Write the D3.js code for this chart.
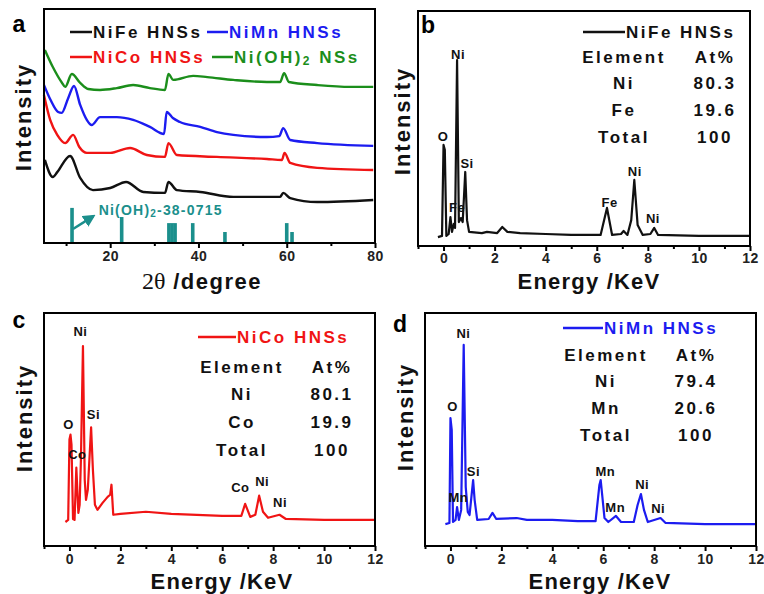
<!DOCTYPE html>
<html><head><meta charset="utf-8">
<script src="https://cdn.jsdelivr.net/npm/d3@7"></script>
<style>
body{margin:0;background:#fff}
text{font-family:"Liberation Sans",Arial,sans-serif;font-weight:bold}
</style></head><body>
<script>
var W = 764, H = 594;

// ---- panel a: XRD, [2theta, intensity a.u.]
var xrdNiOH = [[5.2,82.5],[7,75.2],[9.1,68.4],[9.8,66.7],[11.3,72.2],[13.2,68.4],[15,65.8],[17.7,65.4],[21.5,66.2],[25.2,67.5],[29,66.2],[32.4,65.4],[33.2,72.2],[34.3,69.7],[38.8,71.4],[42,70.9],[47.9,69.7],[55.5,68.8],[58.5,68.8],[59.4,72.6],[60.5,68.8],[66.9,67.5],[74.4,66.7],[79.6,66.7]];
var xrdNiMn = [[5,67.5],[6.5,61.1],[8.2,56],[9,55.6],[10.5,62],[11.8,67.1],[13.2,59],[14.7,52.6],[15.8,50.4],[17.7,53.8],[21.5,53.8],[25.2,52.6],[29,49.6],[32.2,46.6],[32.8,56],[34.2,53.4],[35.8,51.7],[40.4,49.6],[44.2,47.4],[47.9,46.2],[55.5,45.3],[58.3,45.7],[59.2,49.1],[60.8,44],[66.9,42.7],[79.6,41.5]];
var xrdNiCo = [[5,63.2],[6.4,52.6],[8,46.2],[9.8,42.7],[11.6,46.2],[13,41],[14.7,38.5],[20,38.5],[24.5,40.6],[28.3,37.6],[32.4,36.8],[33.2,42.7],[35.1,37.6],[44.2,36.8],[55.5,35.9],[58.9,35.5],[59.5,38.5],[60.8,34.2],[66.9,32.1],[79.6,31.2]];
var xrdNiFe = [[5.2,35.5],[7,28.2],[8,30.3],[10.9,37.2],[13.2,27.8],[16.1,22.6],[20,23.5],[23.6,26.1],[27.5,21.8],[32.4,21.4],[33.2,26.1],[35.1,22.6],[40.4,21.8],[47.9,19.7],[58.5,19.7],[59.2,21.4],[60.8,19.2],[66.9,17.5],[79.6,18.4]];
// JCPDS 38-0715 reference lines [2theta, height]
var refPeaks = [[11.35,15],[22.6,11.1],[33.3,8.5],[34.0,8.5],[34.7,8.5],[38.7,8.5],[46.0,4.7],[60.0,8.5],[61.2,4.7]];
var xrdTicks = [20,40,60,80], xrdMinor = [10,30,50,70];

// ---- EDS spectra [energy keV, intensity a.u.]
var edsNiFe = [[-0.22,3.8],[-0.06,4.3],[0,43],[0.05,40.9],[0.11,4.3],[0.2,5.1],[0.27,12.3],[0.33,6],[0.4,9.4],[0.45,7.7],[0.53,79.1],[0.6,10.2],[0.68,11.9],[0.75,10.2],[0.85,31.5],[0.92,11],[1,6],[1.5,5.5],[1.7,6],[2.1,5.5],[2.3,8.1],[2.5,6],[3,5.5],[4,5.1],[5,4.7],[6.15,4.7],[6.4,16.2],[6.6,4.7],[6.95,5.1],[7.05,6.4],[7.2,4.7],[7.35,11],[7.47,28.1],[7.6,8.9],[7.8,4.7],[8.1,5.1],[8.25,7.7],[8.4,4.7],[10,4.3],[12,4.3]];
var edsNiCo = [[-0.16,10.3],[-0.05,11.2],[0,45.7],[0.04,47.8],[0.08,43.5],[0.14,11.6],[0.2,11.2],[0.27,33.6],[0.35,14.2],[0.4,17.7],[0.45,37],[0.53,85.8],[0.6,28.4],[0.65,19.8],[0.72,24.1],[0.85,50.9],[0.92,32.8],[1,17.7],[1.1,15.5],[1.3,18.5],[1.5,21.1],[1.6,22],[1.65,26.3],[1.72,13.4],[2,13.8],[3,14.7],[4,13.8],[5,13.4],[6,12.9],[6.75,12.9],[6.9,18.1],[7.1,12.5],[7.3,13.4],[7.45,21.6],[7.6,14.7],[7.8,12.1],[8.25,13.4],[8.5,11.6],[10,11.2],[12,11.2]];
var edsNiMn = [[-0.2,9.4],[-0.04,9.9],[0,54.9],[0.05,49.8],[0.1,10.3],[0.2,11.2],[0.26,16.7],[0.33,11.2],[0.42,15.5],[0.52,86.3],[0.6,25.3],[0.68,14.6],[0.75,13.3],[0.89,28.3],[0.95,19.7],[1.05,11.2],[1.5,11.6],[1.65,14.2],[1.8,11.6],[2.6,12],[3,11.2],[4,11.2],[5,10.7],[5.7,10.7],[5.85,26.2],[5.9,28.3],[6.05,12],[6.2,10.3],[6.5,12.9],[6.7,10.3],[7.2,10.3],[7.35,17.6],[7.48,22.3],[7.6,15.5],[7.75,10.3],[8.25,12],[8.45,9.9],[10,9.4],[12,9.4]];
var edsTicks = [0,2,4,6,8,10,12], edsMinor = [-1,1,3,5,7,9,11];

// peak labels [energy, intensity, text]
var labNiFe = [[0.57,81.3,"Ni"],[-0.02,46.4,"O"],[0.92,35.3,"Si"],[0.53,16.2,"Fe"],[6.5,18.7,"Fe"],[7.49,31.5,"Ni"],[8.2,11.9,"Ni"]];
var labNiCo = [[0.43,92.2,"Ni"],[-0.04,52.2,"O"],[0.94,56.5,"Si"],[0.31,39.2,"Co"],[6.71,25,"Co"],[7.57,27.6,"Ni"],[8.27,18.5,"Ni"]];
var labNiMn = [[0.51,91.4,"Ni"],[0.08,59.7,"O"],[0.9,31.8,"Si"],[0.31,21,"Mn"],[6.08,31.8,"Mn"],[6.47,16.7,"Mn"],[7.53,26.2,"Ni"],[8.16,16.3,"Ni"]];

// composition tables
var tabNiFe = [["Element","At%"],["Ni","80.3"],["Fe","19.6"],["Total","100"]];
var tabNiCo = [["Element","At%"],["Ni","80.1"],["Co","19.9"],["Total","100"]];
var tabNiMn = [["Element","At%"],["Ni","79.4"],["Mn","20.6"],["Total","100"]];

var cBlack = "#111", cRed = "#f01414", cBlue = "#1c1cf0", cGreen = "#1b8e1b", cTeal = "#1b8f8c";

var svg = d3.select("body").append("svg").attr("width", W).attr("height", H);

function frame(box) {
    svg.append("rect").attr("x", box.x0).attr("y", box.y0)
        .attr("width", box.x1 - box.x0).attr("height", box.y1 - box.y0)
        .attr("fill", "none").attr("stroke", "#000").attr("stroke-width", 2);
}

function bottomAxis(box, x, major, minor, pad) {
    var g1 = svg.append("g").attr("transform", "translate(0," + box.y1 + ")")
        .call(d3.axisBottom(x).tickValues(minor).tickSize(3).tickFormat(""));
    var g2 = svg.append("g").attr("transform", "translate(0," + box.y1 + ")")
        .call(d3.axisBottom(x).tickValues(major).tickSize(5).tickPadding(pad));
    [g1, g2].forEach(function (g) {
        g.select(".domain").remove();
        g.selectAll("line").attr("stroke", "#000").attr("stroke-width", 2);
        g.selectAll("text").attr("font-size", 14).attr("fill", "#222")
            .style("letter-spacing", "0.5px")
            .attr("font-family", "Liberation Sans, Arial, sans-serif").attr("font-weight", "bold");
    });
}

function yTitle(cx, cy) {
    svg.append("text").attr("transform", "translate(" + cx + "," + cy + ") rotate(-90)")
        .attr("text-anchor", "middle").attr("dominant-baseline", "central")
        .attr("font-size", 22).style("letter-spacing", "2px").attr("fill", "#111")
        .text("Intensity");
}

function panelLetter(x, y, s) {
    svg.append("text").attr("x", x).attr("y", y).attr("text-anchor", "middle")
        .attr("font-size", 23).attr("fill", "#000").text(s);
}

function legendItem(x, y, len, color, label, sub, rest) {
    svg.append("line").attr("x1", x).attr("x2", x + len).attr("y1", y).attr("y2", y)
        .attr("stroke", color).attr("stroke-width", 2.5);
    var t = svg.append("text").attr("x", x + len + 1).attr("y", y)
        .attr("dominant-baseline", "central").attr("font-size", 17)
        .style("letter-spacing", "2.5px").attr("fill", color).text(label);
    if (sub) {
        t.append("tspan").attr("font-size", 12).attr("dy", 4).text(sub);
        t.append("tspan").attr("dy", -4).text(rest);
    }
}

// ================= panel a =================
var boxA = {x0: 44, x1: 375, y0: 9, y1: 243};
var xa = d3.scaleLinear().domain([5, 80]).range([boxA.x0, boxA.x1]);
var ya = d3.scaleLinear().domain([0, 100]).range([boxA.y1, boxA.y0]);
var lineA = d3.line().x(function (d) { return xa(d[0]); }).y(function (d) { return ya(d[1]); })
    .curve(d3.curveMonotoneX);

svg.selectAll("rect.ref").data(refPeaks).enter().append("rect").attr("class", "ref")
    .attr("x", function (d) { return xa(d[0]) - 1.8; }).attr("width", 3.6)
    .attr("y", function (d) { return ya(d[1]); })
    .attr("height", function (d) { return ya(0) - ya(d[1]); })
    .attr("fill", cTeal);

[[xrdNiFe, cBlack], [xrdNiCo, cRed], [xrdNiMn, cBlue], [xrdNiOH, cGreen]].forEach(function (s) {
    svg.append("path").attr("d", lineA(s[0])).attr("fill", "none")
        .attr("stroke", s[1]).attr("stroke-width", 2.4);
});

// arrow to reference pattern
svg.append("defs").append("marker").attr("id", "arr").attr("viewBox", "0 0 10 10")
    .attr("refX", 8).attr("refY", 5).attr("markerWidth", 5).attr("markerHeight", 5)
    .attr("orient", "auto").append("path").attr("d", "M0,0L10,5L0,10z").attr("fill", cTeal);
svg.append("line").attr("x1", xa(11.35) + 1).attr("y1", ya(6))
    .attr("x2", xa(16.2)).attr("y2", ya(11.5))
    .attr("stroke", cTeal).attr("stroke-width", 2.5).attr("marker-end", "url(#arr)");
var refLab = svg.append("text").attr("x", xa(17.4)).attr("y", ya(14))
    .attr("dominant-baseline", "central").attr("font-size", 14)
    .style("letter-spacing", "1.2px").attr("fill", cTeal).text("Ni(OH)");
refLab.append("tspan").attr("font-size", 10).attr("dy", 3).text("2");
refLab.append("tspan").attr("dy", -3).text("-38-0715");

frame(boxA);
bottomAxis(boxA, xa, xrdTicks, xrdMinor, 3);
yTitle(23, 117);
panelLetter(19, 32, "a");
var tA = svg.append("text").attr("x", 202).attr("y", 289).attr("text-anchor", "middle")
    .attr("font-size", 22).attr("fill", "#111");
tA.append("tspan").attr("font-family", "Liberation Serif, Times New Roman, serif")
    .attr("font-weight", "normal").attr("font-size", 24).text("2θ");
tA.append("tspan").style("letter-spacing", "1.5px").text(" /degree");

legendItem(70, 32, 22, cBlack, "NiFe HNSs");
legendItem(207, 32, 21, cBlue, "NiMn HNSs");
legendItem(70, 57, 22, cRed, "NiCo HNSs");
legendItem(212, 57, 21, cGreen, "Ni(OH)", "2", " NSs");

// ================= EDS panels =================
function edsPanel(cfg) {
    var box = cfg.box;
    var x = d3.scaleLinear().domain([-1, 12]).range([box.x0, box.x1]);
    var y = d3.scaleLinear().domain([0, 100]).range([box.y1, box.y0]);
    var line = d3.line().x(function (d) { return x(d[0]); }).y(function (d) { return y(d[1]); });
    svg.append("path").attr("d", line(cfg.data)).attr("fill", "none")
        .attr("stroke", cfg.color).attr("stroke-width", 2.2).attr("stroke-linejoin", "round");
    svg.selectAll(null).data(cfg.labels).enter().append("text")
        .attr("x", function (d) { return x(d[0]); }).attr("y", function (d) { return y(d[1]); })
        .attr("text-anchor", "middle").attr("dominant-baseline", "central")
        .attr("font-size", 13).style("letter-spacing", "0.5px").attr("fill", "#111")
        .text(function (d) { return d[2]; });
    frame(box);
    bottomAxis(box, x, edsTicks, edsMinor, cfg.pad);
    legendItem(cfg.leg[0], cfg.leg[1], cfg.leg[2], cfg.color, cfg.name);
    cfg.table.forEach(function (row, i) {
        row.forEach(function (cell, j) {
            svg.append("text").attr("x", box.x0 + cfg.cols[j]).attr("y", box.y0 + cfg.row0 + i * cfg.rowStep)
                .attr("text-anchor", "middle").attr("dominant-baseline", "central")
                .attr("font-size", 17).style("letter-spacing", "2.5px").attr("fill", "#111")
                .text(cell);
        });
    });
    yTitle(cfg.yt[0], cfg.yt[1]);
    panelLetter(cfg.letter[0], cfg.letter[1], cfg.letter[2]);
    svg.append("text").attr("x", cfg.xt[0]).attr("y", cfg.xt[1]).attr("text-anchor", "middle")
        .attr("font-size", 22).style("letter-spacing", "1.2px").attr("fill", "#111")
        .text("Energy /KeV");
}

edsPanel({box: {x0: 418, x1: 750, y0: 11, y1: 246}, data: edsNiFe, color: cBlack, labels: labNiFe,
    name: "NiFe HNSs", leg: [583, 32, 42], table: tabNiFe, cols: [206, 297], row0: 46, rowStep: 26.7,
    yt: [402, 121], letter: [428, 33, "b"], xt: [589, 289], pad: 2});
edsPanel({box: {x0: 44, x1: 375, y0: 313, y1: 546}, data: edsNiCo, color: cRed, labels: labNiCo,
    name: "NiCo HNSs", leg: [198, 337, 38], table: tabNiCo, cols: [198, 288], row0: 54, rowStep: 27.7,
    yt: [24, 418], letter: [19, 328, "c"], xt: [222, 589], pad: 3});
edsPanel({box: {x0: 425, x1: 756, y0: 313, y1: 546}, data: edsNiMn, color: cBlue, labels: labNiMn,
    name: "NiMn HNSs", leg: [563, 328, 40], table: tabNiMn, cols: [181, 271], row0: 42, rowStep: 26.7,
    yt: [405, 417], letter: [400, 332, "d"], xt: [600, 589], pad: 3});
</script>
</body></html>
